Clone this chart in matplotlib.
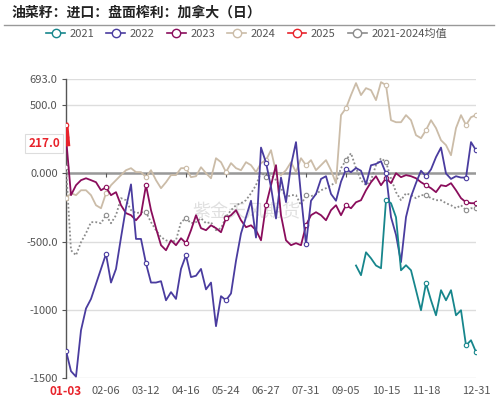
import numpy as np
import matplotlib
matplotlib.use('Agg')
import matplotlib.pyplot as plt
from matplotlib.lines import Line2D

plt.rcParams['font.family'] = ['Noto Sans CJK SC', 'DejaVu Sans']

# categories: trading-day positions, every 3rd one is sampled
n_cat = 247
step = 3
tick_pos = [0, 24, 48, 72, 96, 120, 144, 168, 192, 216, 246]
tick_lab = ['01-03', '02-06', '03-12', '04-16', '05-24', '06-27', '07-31',
            '09-05', '10-15', '11-18', '12-31']

y_ticks = [693, 500, 0, -500, -1000, -1500]
y_labs = ['693.0', '500.0', '0.000', '-500.0', '-1000', '-1500']

v2022 = [-1300, -1450, -1490, -1150, -990, -920, -810, -700, -590, -800, -700, -470,
         -250, -80, -480, -480, -660, -800, -800, -790, -930, -870, -920, -700,
         -600, -760, -750, -700, -850, -800, -1120, -900, -930, -880, -640, -440,
         -320, -200, -470, 190, 80, -100, -330, -30, -210, 60, 230, -160,
         -520, -200, -150, -40, -20, -150, -200, -60, 30, 10, 40, 20,
         -80, 60, 70, 90, 0, -320, -450, -650, -320, -170, -70, 20,
         -20, 30, 120, 190, 0, -40, -20, -30, -30, 230, 170]

v2023 = [266, -159, -86, -49, -35, -49, -64, -123, -101, -159, -137, -233,
         -291, -306, -343, -300, -86, -269, -401, -526, -563, -490, -526, -475,
         -511, -416, -306, -401, -416, -380, -401, -431, -328, -306, -269, -343,
         -394, -380, -416, -490, -233, -86, 61, -306, -490, -526, -511, -526,
         -380, -306, -284, -306, -343, -269, -233, -306, -233, -255, -211, -196,
         -123, -64, -20, -86, -35, -71, 2, -27, -12, -20, -35, -64,
         -86, -108, -137, -86, -93, -71, -123, -181, -211, -218, -218]

v2024 = [-181, -145, -159, -123, -123, -159, -233, -255, -145, -86, -49, -12,
         24, 39, 10, 10, -27, 24, -49, -108, -64, -12, -12, 39,
         39, -27, -20, 46, 2, -35, 112, 83, 10, 76, 39, 24,
         83, 61, 10, 76, 98, 171, 10, -12, 24, 83, 10, 112,
         61, 98, 24, 61, 98, 24, -71, 428, 479, 575, 663, 575,
         626, 611, 538, 670, 648, 391, 376, 376, 428, 391, 281, 259,
         318, 391, 333, 244, 208, 134, 333, 428, 355, 413, 428]

v_avg = [46, -563, -600, -504, -438, -357, -357, -365, -306, -365, -306, -181,
         -196, -269, -291, -284, -284, -357, -416, -467, -490, -504, -490, -357,
         -328, -365, -357, -328, -365, -357, -416, -401, -321, -269, -233, -218,
         -196, -145, -86, 10, -27, -12, -49, -108, -174, -159, -159, -233,
         -159, -167, -152, -123, -108, -86, -64, 39, 98, 149, 39, -49,
         -86, -49, 61, 112, 83, -35, -137, -196, -145, -159, -181, -159,
         -159, -181, -196, -196, -218, -233, -255, -233, -269, -255, -255]

start2021 = 174
v2021 = [-675, -746, -578, -622, -675, -695, -196, -218, -321, -710, -673, -710,
         -856, -1003, -805, -930, -1040, -856, -930, -856, -1040, -1003, -1261, -1223,
         -1310]

v2025 = [354, 217]
last2025 = 217.0

c2021, c2022, c2023, c2024, c2025, cavg = '#17868c', '#4a3c9f', '#8a0d5c', '#cbbca8', '#e8232b', '#8c8c8c'

grid = np.arange(0, n_cat, step)
x2021 = np.arange(start2021, n_cat, step)

fig = plt.figure(figsize=(4.98, 3.99), dpi=100)
ax = fig.add_axes([66/498, 1-378/399, 410/498, 299/399])


def marks(xs):
    idx = [i for i, x in enumerate(xs) if x % 24 == 0]
    if len(xs) - 1 not in idx:
        idx.append(len(xs) - 1)
    return idx


mk = dict(marker='o', markersize=3.2, markerfacecolor='white', markeredgewidth=0.8)
ax.plot(grid, v_avg, color=cavg, lw=1.3, ls=(0, (1, 1.2)), markevery=marks(grid), markeredgecolor=cavg, zorder=3, **mk)
ax.plot(grid, v2024, color=c2024, lw=1.3, markevery=marks(grid), markeredgecolor=c2024, zorder=4, **mk)
ax.plot(grid, v2023, color=c2023, lw=1.3, markevery=marks(grid), markeredgecolor=c2023, zorder=5, **mk)
ax.plot(grid, v2022, color=c2022, lw=1.3, markevery=marks(grid), markeredgecolor=c2022, zorder=6, **mk)
ax.plot(x2021, v2021, color=c2021, lw=1.3, markevery=marks(x2021), markeredgecolor=c2021, zorder=7, **mk)
ax.plot(range(len(v2025)), v2025, color=c2025, lw=3.5, zorder=8)
ax.plot([0], v2025[:1], 'o', ms=3.2, mfc='white', mec=c2025, mew=0.8, zorder=9)

ax.set_xlim(0, n_cat - 1)
ax.set_ylim(-1500, 693)
ax.set_yticks(y_ticks)
ax.set_yticklabels(y_labs)
ax.set_xticks(tick_pos)
ax.set_xticklabels([''] + tick_lab[1:])
ax.tick_params(axis='x', length=0, pad=6, labelsize=8, labelcolor='#555555')
ax.tick_params(axis='y', length=3, width=0.8, color='#555555', pad=3, labelsize=8, labelcolor='#555555')
for s in ['top', 'right', 'bottom']:
    ax.spines[s].set_visible(False)
ax.spines['left'].set_color('#555555')
ax.spines['left'].set_linewidth(1)
ax.grid(axis='y', color='#dddddd', lw=1)
ax.set_axisbelow(True)
ax.axhline(0, color='#999999', lw=1.8, zorder=2)
ax.vlines(tick_pos[1:-1], 0, -25, color='#555555', lw=0.8, zorder=2)

# first date label and last-value label
ax.text(0, -0.045, tick_lab[0], transform=ax.get_xaxis_transform(), ha='center', va='center',
        color='#e8232b', fontsize=8.5, fontweight='bold', zorder=10, clip_on=False)
ax.text(-0.015, last2025, f'{last2025:.1f}', transform=ax.get_yaxis_transform(), ha='right', va='center',
        color='#e8232b', fontsize=8.5, fontweight='bold',
        bbox=dict(boxstyle='square,pad=0.25', fc='white', ec='#dddddd', lw=0.8), zorder=10, clip_on=False)

# watermark
ax.text(0.44, 0.555, '紫金天风期货', transform=ax.transAxes, ha='center', va='center',
        fontsize=13, color='#bbbbbb', alpha=0.45, zorder=1)

fig.text(12/498, 1-13/399, '油菜籽：进口：盘面榨利：加拿大（日）', fontsize=10, fontweight='bold',
         color='#222222', ha='left', va='center')
fig.add_artist(Line2D([4/498, 494/498], [1-24.5/399, 1-24.5/399], color='#999999', lw=1))

names = ['2021', '2022', '2023', '2024', '2025', '2021-2024均值']
cols = [c2021, c2022, c2023, c2024, c2025, cavg]
handles = [Line2D([], [], color=c, lw=1.2, marker='o', markersize=6, markerfacecolor='white',
                  markeredgecolor=c, markeredgewidth=1) for c in cols]
fig.legend(handles, names, loc='center', bbox_to_anchor=(0.495, 1-34/399), ncol=6, frameon=False,
           fontsize=8, labelcolor='#555555', handlelength=1.7, handletextpad=0.4, columnspacing=1.1)

fig.savefig('out.png', dpi=100)
